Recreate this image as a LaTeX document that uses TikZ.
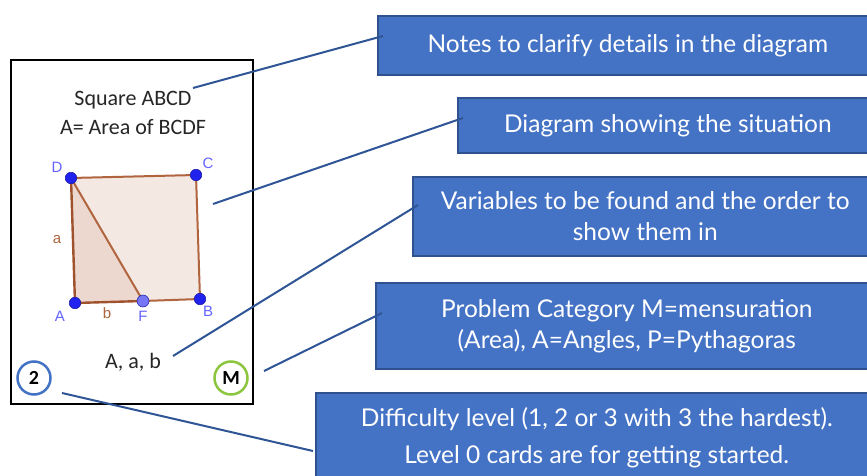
\documentclass[tikz,border=0pt]{standalone}
\usepackage{fontspec}
\setmainfont{Carlito}
\newfontfamily\boxfont{Lato}
\newfontfamily\geofont{Liberation Sans}
\definecolor{boxfill}{HTML}{4472C4}
\definecolor{boxedge}{HTML}{2F528F}
\definecolor{conn}{HTML}{2F5597}
\definecolor{brown}{HTML}{B0653F}
\definecolor{darkbrown}{HTML}{A0522D}
\definecolor{sqfill}{HTML}{F4E8E3}
\definecolor{trifill}{HTML}{ECD8CF}
\definecolor{ptblue}{HTML}{2222EE}
\definecolor{ptlight}{HTML}{7777F5}
\definecolor{lblblue}{HTML}{6464FF}
\definecolor{cardtext}{HTML}{262626}
\definecolor{ringgreen}{HTML}{8CC63F}
\tikzset{
  bluebox/.style={draw=boxedge, line width=1.6pt, fill=boxfill, text=white,
    font=\boxfont\fontsize{24.5}{31}\selectfont, align=center, anchor=north west,
    inner sep=0pt},
  connector/.style={draw=conn, line width=2pt},
  pt/.style={circle, draw=ptblue!70!black, line width=0.5pt, fill=ptblue, minimum size=11.5pt, inner sep=0pt},
  ptf/.style={circle, draw=ptblue!70!black, line width=0.5pt, fill=ptlight, minimum size=12pt, inner sep=0pt},
  ptlabel/.style={text=lblblue, font=\geofont\fontsize{15}{17}\selectfont, inner sep=0pt},
  sidelabel/.style={text=brown, font=\geofont\fontsize{15}{17}\selectfont, inner sep=0pt},
  cardtxt/.style={text=cardtext, font=\fontsize{22}{26}\selectfont, inner sep=0pt},
  ring/.style={circle, line width=2.5pt, minimum size=33pt, inner sep=0pt, font=\bfseries\fontsize{20}{22}\selectfont}
}
\begin{document}
\begin{tikzpicture}[x=1pt,y=-1pt]
\useasboundingbox (0,0) rectangle (867,476);
\clip (0,0) rectangle (867,476);
\fill[white] (0,0) rectangle (867,476);
% card
\node[draw=black, line width=1.6pt, minimum width=242pt, minimum height=344pt, anchor=north west, inner sep=0pt] (card) at (10,59) {};
\node[cardtxt] (t1) at (133,100) {Square ABCD};
\node[cardtxt] (t2) at (133,127) {A= Area of BCDF};
\node[cardtxt] (vars) at (133,362) {A, a, b};
% geometry
\coordinate (A) at (75,303);
\coordinate (B) at (200,299);
\coordinate (C) at (196,175);
\coordinate (D) at (71,178);
\coordinate (F) at (143,301);
\fill[sqfill] (F) -- (B) -- (C) -- (D) -- cycle;
\fill[trifill] (A) -- (F) -- (D) -- cycle;
\draw[brown, line width=2pt] (F) -- (B) -- (C) -- (D) -- (F);
\draw[darkbrown, line width=2.4pt] (D) -- (A) -- (F);
\node[pt] (pA) at (A) {};
\node[pt] (pB) at (B) {};
\node[pt] (pC) at (C) {};
\node[pt] (pD) at (D) {};
\node[ptf] (pF) at (F) {};
\node[ptlabel] (lA) at (60,316) {A};
\node[ptlabel] (lB) at (208,311) {B};
\node[ptlabel] (lC) at (208,163) {C};
\node[ptlabel] (lD) at (57,167) {D};
\node[ptlabel] (lF) at (143,316) {F};
\node[sidelabel] (la) at (57,240) {a};
\node[sidelabel] (lb) at (107,313) {b};
% rings
\node[ring, draw=boxfill] (lvl) at (34,378) {2};
\node[ring, draw=ringgreen] (cat) at (231,378) {M};
% boxes
\node[bluebox, minimum width=500pt, minimum height=59pt] (b1) at (377,15) {Notes to clarify details in the diagram};
\node[bluebox, minimum width=420pt, minimum height=55pt] (b2) at (457,97) {Diagram showing the situation};
\node[bluebox, minimum width=465pt, minimum height=79pt] (b3) at (412,176) {Variables to be found and the order to\\show them in};
\node[bluebox, minimum width=502pt, minimum height=86pt] (b4) at (375,282) {Problem Category M=mensuration\\(Area), A=Angles, P=Pythagoras};
\node[bluebox, minimum width=562pt, minimum height=90pt, font=\boxfont\fontsize{24.5}{37}\selectfont] (b5) at (315,392) {Difficulty level (1, 2 or 3 with 3 the hardest).\\Level 0 cards are for getting started.};
% connector ends
\coordinate (s1) at (193,88);
\coordinate (e1) at (383,36);
\coordinate (s2) at (213,204);
\coordinate (e2) at (463,118);
\coordinate (s3) at (173,356);
\coordinate (e3) at (418,205);
\coordinate (s4) at (264,371);
\coordinate (e4) at (382,313);
\coordinate (s5) at (62,393);
\coordinate (e5) at (313,451);
\draw[connector] (s1) -- (e1);
\draw[connector] (s2) -- (e2);
\draw[connector] (s3) -- (e3);
\draw[connector] (s4) -- (e4);
\draw[connector] (s5) -- (e5);
\end{tikzpicture}
\end{document}
